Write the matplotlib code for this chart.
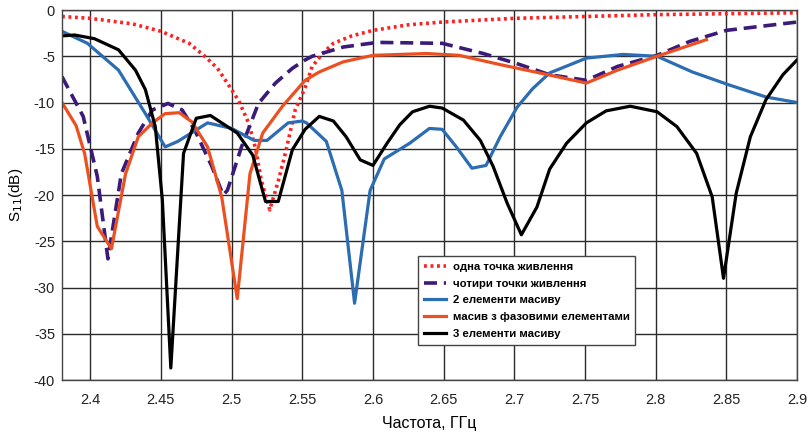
import numpy as np
import matplotlib.pyplot as plt

plt.rcParams['font.family'] = ['Liberation Sans', 'DejaVu Sans']
plt.rcParams['axes.unicode_minus'] = False

# одна точка живлення
f_one = [2.38, 2.40, 2.43, 2.45, 2.47, 2.481, 2.49, 2.497, 2.505, 2.512, 2.517, 2.521, 2.527,
         2.533, 2.538, 2.545, 2.552, 2.557, 2.565, 2.572, 2.585, 2.60, 2.625, 2.649, 2.70, 2.80, 2.90]
s_one = [-0.7, -0.9, -1.5, -2.3, -3.6, -5.0, -6.3, -7.9, -9.8, -12.2, -15.0, -18.4, -21.6,
         -18.5, -15.5, -10.8, -8.4, -6.1, -4.6, -3.6, -2.8, -2.2, -1.6, -1.3, -0.9, -0.5, -0.3]

# чотири точки живлення
f_four = [2.38, 2.395, 2.405, 2.4125, 2.422, 2.434, 2.444, 2.455, 2.465, 2.474, 2.486, 2.494,
          2.497, 2.507, 2.519, 2.531, 2.543, 2.552, 2.557, 2.579, 2.603, 2.649, 2.678, 2.702,
          2.725, 2.751, 2.773, 2.801, 2.824, 2.85, 2.9]
s_four = [-7.2, -11.5, -18.0, -26.9, -17.7, -13.3, -10.8, -10.1, -10.8, -13.0, -16.9, -20.0,
          -19.5, -14.8, -10.1, -7.9, -6.3, -5.4, -5.0, -4.0, -3.5, -3.6, -4.7, -5.8,
          -7.0, -7.6, -6.1, -4.9, -3.4, -2.2, -1.3]

# 2 елементи масиву
f_two = [2.38, 2.398, 2.42, 2.439, 2.453, 2.462, 2.483, 2.50, 2.516, 2.525, 2.54, 2.55, 2.553,
         2.567, 2.578, 2.587, 2.598, 2.608, 2.626, 2.64, 2.649, 2.659, 2.67, 2.68, 2.69, 2.702,
         2.713, 2.725, 2.751, 2.777, 2.801, 2.826, 2.852, 2.878, 2.9]
s_two = [-2.3, -3.6, -6.5, -11.2, -14.8, -14.2, -12.2, -12.8, -14.1, -14.1, -12.2, -12.0, -12.2,
         -14.2, -19.5, -31.7, -19.5, -16.1, -14.4, -12.8, -12.9, -14.8, -17.1, -16.8, -13.7, -10.5,
         -8.5, -6.8, -5.2, -4.8, -5.0, -6.7, -8.1, -9.4, -10.0]

# масив з фазовими елементами
f_phase = [2.38, 2.39, 2.396, 2.405, 2.415, 2.425, 2.434, 2.444, 2.453, 2.463, 2.472, 2.483,
           2.493, 2.504, 2.513, 2.522, 2.536, 2.552, 2.562, 2.579, 2.60, 2.638, 2.661, 2.69,
           2.724, 2.751, 2.773, 2.801, 2.836]
s_phase = [-10.0, -12.5, -15.5, -23.4, -25.8, -17.7, -13.7, -12.2, -11.2, -11.1, -12.1, -14.8,
           -20.2, -31.2, -17.7, -13.3, -10.4, -7.6, -6.7, -5.6, -4.9, -4.7, -4.9, -5.9,
           -7.0, -7.9, -6.5, -5.0, -3.2]

# 3 елементи масиву
f_three = [2.38, 2.389, 2.403, 2.42, 2.432, 2.439, 2.446, 2.451, 2.457, 2.466, 2.475, 2.485,
           2.504, 2.515, 2.524, 2.533, 2.543, 2.552, 2.562, 2.572, 2.581, 2.591, 2.60, 2.61,
           2.619, 2.628, 2.64, 2.649, 2.664, 2.676, 2.685, 2.695, 2.705, 2.716, 2.725, 2.737,
           2.751, 2.765, 2.782, 2.801, 2.815, 2.829, 2.84, 2.848, 2.857, 2.867, 2.878, 2.89, 2.9]
s_three = [-2.8, -2.7, -3.1, -4.3, -6.5, -8.6, -12.6, -20.5, -38.7, -15.5, -11.7, -11.4,
           -13.3, -15.7, -20.7, -20.7, -15.1, -12.9, -11.5, -12.0, -13.7, -16.2, -16.8, -14.4,
           -12.4, -11.0, -10.4, -10.6, -11.9, -14.1, -16.9, -20.9, -24.3, -21.3, -17.2, -14.4,
           -12.2, -10.9, -10.4, -11.0, -12.6, -15.5, -20.2, -29.0, -19.8, -13.7, -9.7, -7.0, -5.4]

fig = plt.figure(figsize=(8.08, 4.36), dpi=100)
ax = fig.add_axes([0.0767, 0.1284, 0.9097, 0.8486])

lw = 2.3
ax.plot(f_one, s_one, color='#ff2020', linestyle=(0, (0.8, 1.0)), linewidth=2.6,
        label='одна точка живлення')
ax.plot(f_four, s_four, color='#3b1a7a', linestyle=(0, (3.6, 1.9)), linewidth=2.6,
        label='чотири точки живлення')
ax.plot(f_two, s_two, color='#2b6cb3', linewidth=lw, label='2 елементи масиву')
ax.plot(f_phase, s_phase, color='#ec5021', linewidth=lw, label='масив з фазовими елементами')
ax.plot(f_three, s_three, color='black', linewidth=lw, label='3 елементи масиву')

ax.set_xlim(2.38, 2.9)
ax.set_ylim(-40, 0)
ax.set_xticks(np.arange(2.4, 2.901, 0.05))
ax.set_xticklabels(['2.4', '2.45', '2.5', '2.55', '2.6', '2.65', '2.7', '2.75', '2.8', '2.85', '2.9'])
ax.set_yticks(np.arange(-40, 1, 5))
ax.tick_params(length=0, labelsize=10.5, colors='#222222')
ax.tick_params(axis='x', pad=9)
ax.tick_params(axis='y', pad=5)
ax.grid(True, color='#2a2a2a', linewidth=1.0)
ax.set_axisbelow(True)
for sp in ax.spines.values():
    sp.set_color('#444444')
    sp.set_linewidth(1.0)

ax.set_xlabel('Частота, ГГц', fontsize=11.5, labelpad=7)
ax.set_ylabel('S$_{11}$(dB)', fontsize=11, labelpad=6)

leg = ax.legend(loc='upper left', bbox_to_anchor=(0.485, 0.335), fancybox=False,
                framealpha=1, edgecolor='#444444', handlelength=1.9, handletextpad=0.6,
                borderpad=0.5, borderaxespad=0, labelspacing=0.6,
                prop={'weight': 'bold', 'size': 8.2})
leg.get_frame().set_linewidth(1.0)

fig.savefig('out.png', dpi=100)
